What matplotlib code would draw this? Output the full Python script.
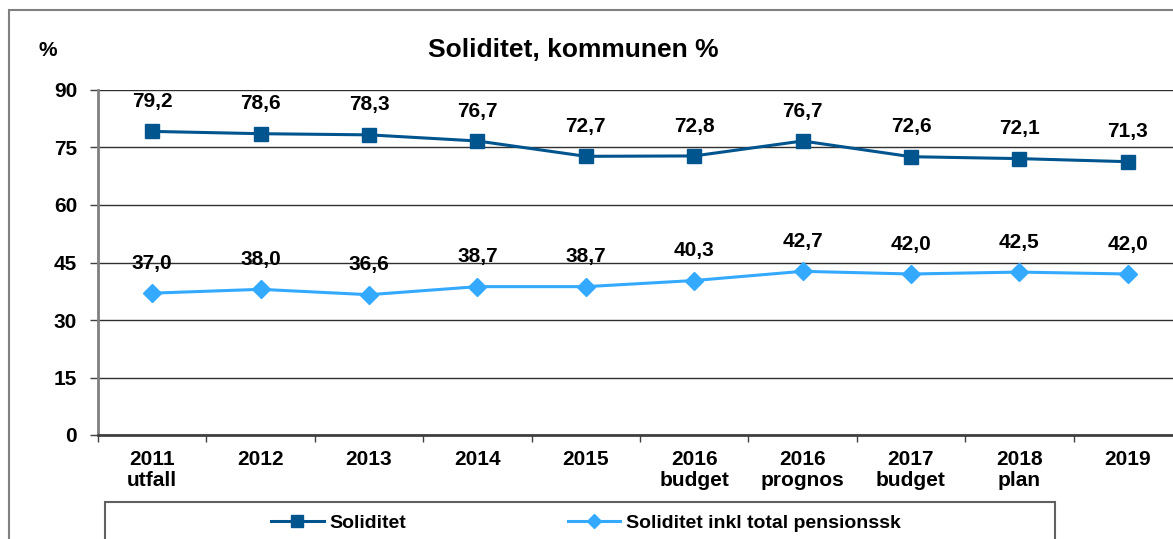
import matplotlib
matplotlib.use("Agg")
import matplotlib.pyplot as plt
from matplotlib.patches import Rectangle
import numpy as np

plt.rcParams['font.family'] = ['Liberation Sans', 'DejaVu Sans']
plt.rcParams['font.weight'] = 'bold'

categories = ["2011\nutfall", "2012", "2013", "2014", "2015", "2016\nbudget",
              "2016\nprognos", "2017\nbudget", "2018\nplan", "2019"]
soliditet = [79.2, 78.6, 78.3, 76.7, 72.7, 72.8, 76.7, 72.6, 72.1, 71.3]
soliditet_pension = [37.0, 38.0, 36.6, 38.7, 38.7, 40.3, 42.7, 42.0, 42.5, 42.0]
yticks = [0, 15, 30, 45, 60, 75, 90]

W, H = 1173, 539
fig = plt.figure(figsize=(W / 100, H / 100), dpi=100)
fig.patch.set_facecolor('white')

# axes in pixel geometry
left, right, top, bottom = 98, 1182, 90, 435
ax = fig.add_axes([left / W, 1 - bottom / H, (right - left) / W, (bottom - top) / H])

x = np.arange(len(categories))
dark = '#00558F'
light = '#33AAFF'

l1, = ax.plot(x, soliditet, color=dark, lw=2.2, marker='s', ms=10,
              markeredgecolor=dark, zorder=4, label='Soliditet')
l2, = ax.plot(x, soliditet_pension, color=light, lw=2.2, marker='D', ms=9,
              markeredgecolor=light, zorder=4, label='Soliditet inkl total pensionssk')

for xi, v in zip(x, soliditet):
    ax.annotate(f"{v:.1f}".replace('.', ','), (xi, v), xytext=(0, 21.5),
                textcoords='offset points', ha='center', va='center',
                fontsize=15, fontweight='bold', zorder=5)
for xi, v in zip(x, soliditet_pension):
    ax.annotate(f"{v:.1f}".replace('.', ','), (xi, v), xytext=(0, 21.5),
                textcoords='offset points', ha='center', va='center',
                fontsize=15, fontweight='bold', zorder=5)

ax.set_xlim(-0.5, len(categories) - 0.5)
ax.set_ylim(0, 90)
ax.set_yticks(yticks)
ax.set_yticklabels([str(t) for t in yticks], fontsize=15, fontweight='bold')
ax.set_xticks(x)
ax.set_xticklabels(categories, fontsize=15, fontweight='bold', linespacing=1.1)
ax.set_xticks(np.arange(-0.5, len(categories)), minor=True)
ax.tick_params(axis='x', which='major', length=0, pad=11)
ax.tick_params(axis='x', which='minor', length=5, width=1, color='#404040')
ax.tick_params(axis='y', length=6, width=1, color='#404040', pad=9)

ax.grid(axis='y', color='#303030', lw=1, zorder=1)
ax.set_axisbelow(True)
for s in ['top', 'right']:
    ax.spines[s].set_visible(False)
ax.spines['left'].set_color('#808080')
ax.spines['left'].set_linewidth(2)
ax.spines['bottom'].set_color('#404040')
ax.spines['bottom'].set_linewidth(2)

# title and unit
fig.text(573 / W, 1 - 50 / H, "Soliditet, kommunen %", ha='center', va='center',
         fontsize=19, fontweight='bold')
fig.text(48 / W, 1 - 50 / H, "%", ha='center', va='center', fontsize=15, fontweight='bold')

# outer chart border
fig.patches.append(Rectangle((9 / W, -0.1), 1.2, 1 - 10 / H + 0.1, transform=fig.transFigure,
                             fill=False, edgecolor='#808080', lw=1.5, zorder=0))
# legend box
fig.patches.append(Rectangle((105 / W, -0.1), (1055 - 105) / W, 1 - 502 / H + 0.1,
                             transform=fig.transFigure, fill=False,
                             edgecolor='#606060', lw=1.5, zorder=0))

fig.legend(handles=[l1, l2], loc='center', bbox_to_anchor=(586 / W, 1 - 523 / H),
           ncol=2, frameon=False, fontsize=14, handlelength=2.7, handletextpad=0.3,
           columnspacing=8.3, markerscale=0.8)

fig.savefig("out.png", dpi=100, facecolor='white')
